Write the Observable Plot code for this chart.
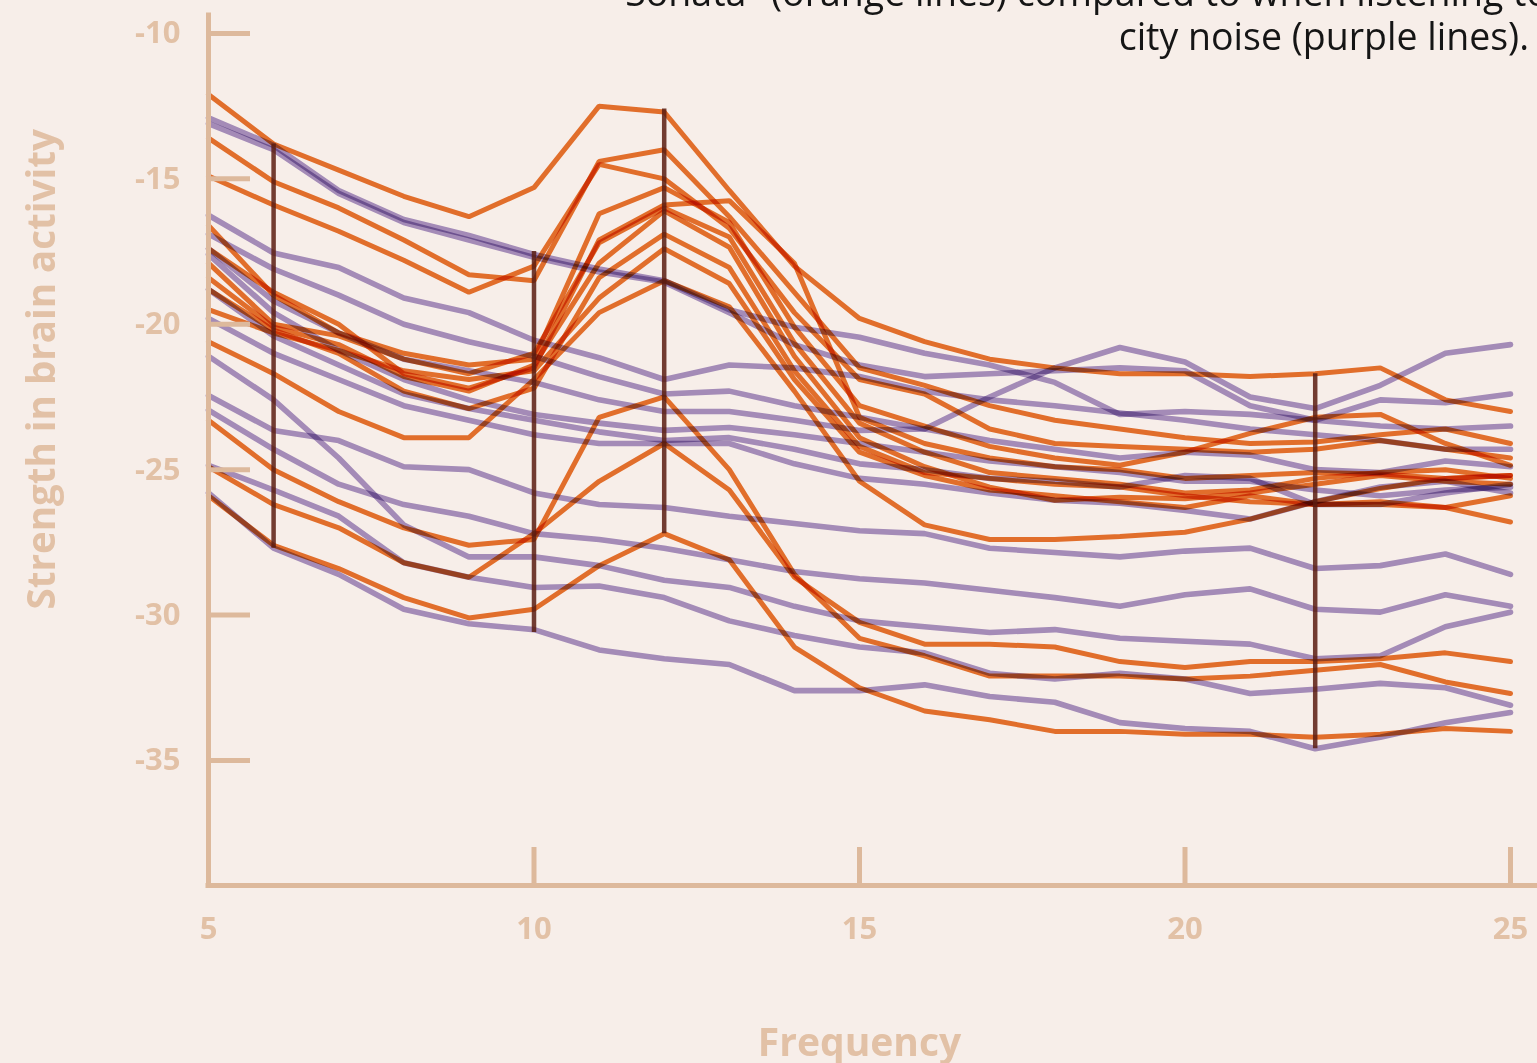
<!DOCTYPE html>
<html><head><meta charset="utf-8">
<script src="https://cdn.jsdelivr.net/npm/d3@7"></script>
<script src="https://cdn.jsdelivr.net/npm/@observablehq/plot@0.6"></script>
<style>
html,body{margin:0;padding:0;background:#f7eee9;overflow:hidden;width:1537px;height:1063px}
#wrap{position:relative;width:1537px;height:1063px;overflow:hidden}
#chart{position:absolute;left:0;top:0}
.sub{position:absolute;font-family:"Open Sans";font-size:37.5px;line-height:40px;color:#151515;white-space:nowrap}
</style></head><body>
<div id="wrap">
<div id="chart"></div>
<div class="sub" style="right:-12px;top:-28px">Sonata" (orange lines) compared to when listening to</div>
<div class="sub" style="right:8px;top:16px">city noise (purple lines).</div>
</div>
<script>
const frequencies = [5,6,7,8,9,10,11,12,13,14,15,16,17,18,19,20,21,22,23,24,25];
const xTicks = [5,10,15,20,25];
const yTicks = [-10,-15,-20,-25,-30,-35];

// Listening to the sonata (orange lines)
const sonataO1  = [-12.1,-13.8,-14.7,-15.6,-16.3,-15.3,-12.5,-12.7,-15.4,-18.0,-19.8,-20.6,-21.2,-21.5,-21.7,-21.7,-21.8,-21.7,-21.5,-22.6,-23.0];
const sonataO2  = [-13.6,-15.1,-16.0,-17.1,-18.3,-18.5,-14.4,-14.0,-16.3,-18.9,-21.5,-22.1,-22.8,-23.3,-23.6,-23.9,-24.1,-24.05,-23.8,-23.6,-24.1];
const sonataO3  = [-14.9,-15.9,-16.8,-17.8,-18.9,-18.0,-14.5,-15.0,-16.7,-19.6,-21.9,-22.4,-23.6,-24.1,-24.2,-24.3,-24.4,-24.3,-24.0,-24.3,-24.6];
const sonataO4  = [-16.6,-19.0,-20.3,-21.0,-21.4,-21.2,-16.2,-15.3,-16.5,-20.1,-22.8,-23.5,-24.2,-24.6,-24.85,-24.4,-23.75,-23.2,-23.1,-24.1,-24.85];
const sonataO5  = [-17.4,-18.9,-20.0,-21.7,-22.2,-21.5,-17.1,-15.9,-15.75,-17.9,-23.2,-24.1,-24.6,-24.9,-25.0,-25.3,-25.2,-25.1,-25.15,-25.3,-25.2];
const sonataO6  = [-17.9,-20.0,-20.4,-21.2,-21.7,-21.0,-17.2,-16.0,-17.0,-20.65,-23.4,-24.4,-25.1,-25.3,-25.5,-25.8,-25.7,-25.3,-25.1,-25.0,-25.3];
const sonataO7  = [-18.4,-20.1,-20.7,-21.8,-22.3,-21.4,-17.9,-16.1,-17.35,-21.1,-23.9,-24.9,-25.6,-26.05,-25.95,-26.0,-25.8,-25.5,-25.2,-25.4,-25.5];
const sonataO8  = [-18.8,-20.2,-21.0,-22.3,-22.9,-22.2,-18.4,-16.9,-18.05,-21.6,-24.2,-25.1,-25.3,-25.5,-25.6,-25.9,-26.1,-26.2,-26.2,-26.3,-25.9];
const sonataO9  = [-19.5,-20.3,-20.9,-21.6,-21.9,-21.6,-19.1,-17.4,-18.6,-21.9,-24.4,-25.2,-25.7,-25.9,-26.1,-26.3,-25.9,-26.2,-26.1,-26.3,-26.8];
const sonataO10 = [-20.6,-21.7,-23.0,-23.9,-23.9,-21.9,-19.6,-18.5,-19.4,-22.3,-25.4,-26.9,-27.4,-27.4,-27.3,-27.15,-26.7,-26.1,-25.65,-25.3,-25.2];
const sonataO11 = [-23.3,-25.0,-26.1,-27.0,-27.6,-27.4,-23.2,-22.5,-25.0,-28.6,-30.8,-31.4,-32.1,-32.1,-32.1,-32.2,-32.1,-31.9,-31.7,-32.3,-32.7];
const sonataO12 = [-24.9,-26.2,-27.0,-28.2,-28.7,-27.2,-25.4,-24.1,-25.7,-28.7,-30.25,-31.0,-31.0,-31.1,-31.6,-31.8,-31.6,-31.6,-31.5,-31.3,-31.6];
const sonataO13 = [-25.9,-27.6,-28.4,-29.4,-30.1,-29.8,-28.3,-27.2,-28.1,-31.1,-32.5,-33.3,-33.6,-34.0,-34.0,-34.1,-34.1,-34.2,-34.1,-33.9,-34.0];

// Listening to city noise (purple lines)
const noiseP1  = [-12.9,-13.85,-15.4,-16.4,-16.95,-17.6,-18.1,-18.5,-19.5,-20.1,-20.45,-21.0,-21.4,-22.0,-23.1,-23.0,-23.1,-23.3,-23.5,-23.6,-23.5];
const noiseP2  = [-13.1,-14.0,-15.5,-16.5,-17.1,-17.7,-18.2,-18.55,-19.6,-20.7,-21.4,-21.8,-21.7,-21.6,-21.5,-21.6,-22.8,-23.3,-22.6,-22.7,-22.4];
const noiseP3  = [-16.25,-17.55,-18.05,-19.1,-19.6,-20.55,-21.15,-21.9,-21.4,-21.5,-21.8,-22.3,-22.6,-22.8,-23.05,-23.3,-23.6,-23.8,-24.0,-24.3,-24.3];
const noiseP4  = [-16.9,-18.1,-19.0,-20.0,-20.6,-21.1,-21.8,-22.4,-22.3,-22.8,-23.2,-23.6,-24.0,-24.3,-24.6,-24.4,-24.5,-25.0,-25.1,-24.7,-24.9];
const noiseP5  = [-17.4,-19.2,-20.3,-21.2,-21.6,-22.0,-22.6,-23.0,-23.0,-23.3,-23.65,-23.6,-22.5,-21.5,-20.8,-21.3,-22.5,-22.9,-22.1,-21.0,-20.7];
const noiseP6  = [-17.6,-19.6,-20.9,-21.9,-22.6,-23.1,-23.4,-23.65,-23.55,-23.8,-24.1,-24.4,-24.7,-24.9,-25.1,-25.4,-25.4,-25.7,-25.9,-25.7,-25.6];
const noiseP7  = [-18.8,-20.4,-21.4,-22.4,-22.9,-23.3,-23.7,-24.0,-23.9,-24.3,-24.8,-25.0,-25.3,-25.4,-25.6,-25.2,-25.3,-26.2,-26.2,-25.8,-25.5];
const noiseP8  = [-19.8,-21.0,-21.9,-22.8,-23.3,-23.8,-24.1,-24.1,-24.1,-24.8,-25.3,-25.5,-25.8,-26.05,-26.15,-26.4,-26.7,-26.1,-25.6,-25.4,-25.8];
const noiseP9  = [-21.1,-22.6,-24.6,-26.9,-28.0,-28.0,-28.3,-28.8,-29.05,-29.7,-30.2,-30.4,-30.6,-30.5,-30.8,-30.9,-31.0,-31.5,-31.4,-30.4,-29.9];
const noiseP10 = [-22.45,-23.65,-24.0,-24.9,-25.0,-25.8,-26.2,-26.3,-26.6,-26.85,-27.1,-27.2,-27.7,-27.85,-28.0,-27.8,-27.7,-28.4,-28.3,-27.9,-28.6];
const noiseP11 = [-22.95,-24.3,-25.5,-26.2,-26.6,-27.2,-27.4,-27.7,-28.1,-28.5,-28.75,-28.9,-29.15,-29.4,-29.7,-29.3,-29.1,-29.8,-29.9,-29.3,-29.7];
const noiseP12 = [-24.85,-25.7,-26.6,-28.2,-28.7,-29.05,-29.0,-29.4,-30.2,-30.7,-31.1,-31.3,-32.0,-32.2,-32.0,-32.2,-32.7,-32.55,-32.35,-32.5,-33.1];
const noiseP13 = [-25.8,-27.7,-28.6,-29.8,-30.3,-30.5,-31.2,-31.5,-31.7,-32.6,-32.6,-32.4,-32.8,-33.0,-33.7,-33.9,-34.0,-34.6,-34.2,-33.7,-33.35];

// Highlighted ranges (dark vertical rules)
const ruleFreq = [6, 10, 12, 22];
const ruleLow  = [-27.7, -30.6, -27.2, -34.6];
const ruleHigh = [-13.8, -17.5, -12.6, -21.7];

const yDomain = [-39.3, -9.3];

const orangeSeries = [sonataO1,sonataO2,sonataO3,sonataO4,sonataO5,sonataO6,sonataO7,sonataO8,sonataO9,sonataO10,sonataO11,sonataO12,sonataO13];
const purpleSeries = [noiseP1,noiseP2,noiseP3,noiseP4,noiseP5,noiseP6,noiseP7,noiseP8,noiseP9,noiseP10,noiseP11,noiseP12,noiseP13];

function toRows(series, prefix) {
  const out = [];
  series.forEach((vals, i) => vals.forEach((v, j) => out.push({freq: frequencies[j], value: v, id: prefix + i})));
  return out;
}
const orangeRows = toRows(orangeSeries, "sonata");
const purpleRows = toRows(purpleSeries, "noise");
const rules = ruleFreq.map((f, i) => ({freq: f, low: ruleLow[i], high: ruleHigh[i]}));

const bg = "#f7eee9";
const axisColor = "#ddb99c";
const labelColor = "#e2c1a6";
const orange = "#e9762f";
const purple = "#a995c8";
const font = "Open Sans";

const plot = Plot.plot({
  width: 1537, height: 1063,
  marginLeft: 208, marginRight: 27, marginTop: 12.6, marginBottom: 178,
  style: {background: bg, overflow: "visible"},
  x: {domain: [5, 25]},
  y: {domain: yDomain},
  marks: [
    Plot.line(purpleRows, {x: "freq", y: "value", z: "id", stroke: purple, strokeWidth: 5.6, strokeLinejoin: "miter"}),
    Plot.line(orangeRows, {x: "freq", y: "value", z: "id", stroke: orange, strokeWidth: 5, strokeLinejoin: "miter"}),
    Plot.ruleX(rules, {x: "freq", y1: "low", y2: "high", stroke: "#5a1c10", strokeWidth: 4.5, strokeOpacity: 0.85}),
    Plot.ruleX([5], {stroke: axisColor, strokeWidth: 5}),
    Plot.ruleY([yDomain[0]], {stroke: axisColor, strokeWidth: 5, insetLeft: -2.5, insetRight: -30}),
    Plot.axisY(yTicks, {anchor: "left", tickSize: 42, dx: 42, fill: "none", stroke: axisColor, strokeWidth: 5, label: null}),
    Plot.axisY(yTicks, {anchor: "left", tickSize: 0, tickPadding: 28, fill: labelColor, fontSize: 31, fontWeight: 700, fontFamily: font, label: null, tickFormat: d => String(d)}),
    Plot.axisX(xTicks.slice(1), {anchor: "bottom", tickSize: 38, dy: -38, fill: "none", stroke: axisColor, strokeWidth: 5, label: null}),
    Plot.axisX(xTicks, {anchor: "bottom", tickSize: 0, tickPadding: 31, fill: labelColor, fontSize: 31, fontWeight: 700, fontFamily: font, label: null, tickFormat: d => String(d)}),
    Plot.text(["Strength in brain activity"], {text: d => d, frameAnchor: "left", dx: -166, dy: -80, rotate: -90, textAnchor: "middle", lineAnchor: "middle", fontSize: 38.5, fontWeight: 700, fontFamily: font, fill: labelColor}),
    Plot.text(["Frequency"], {text: d => d, frameAnchor: "bottom", dy: 158, textAnchor: "middle", lineAnchor: "middle", fontSize: 39, fontWeight: 700, fontFamily: font, fill: labelColor})
  ]
});
document.getElementById("chart").appendChild(plot);
plot.querySelectorAll('g[aria-label="line"] path').forEach(p => p.style.mixBlendMode = "multiply");
</script>
</body></html>
